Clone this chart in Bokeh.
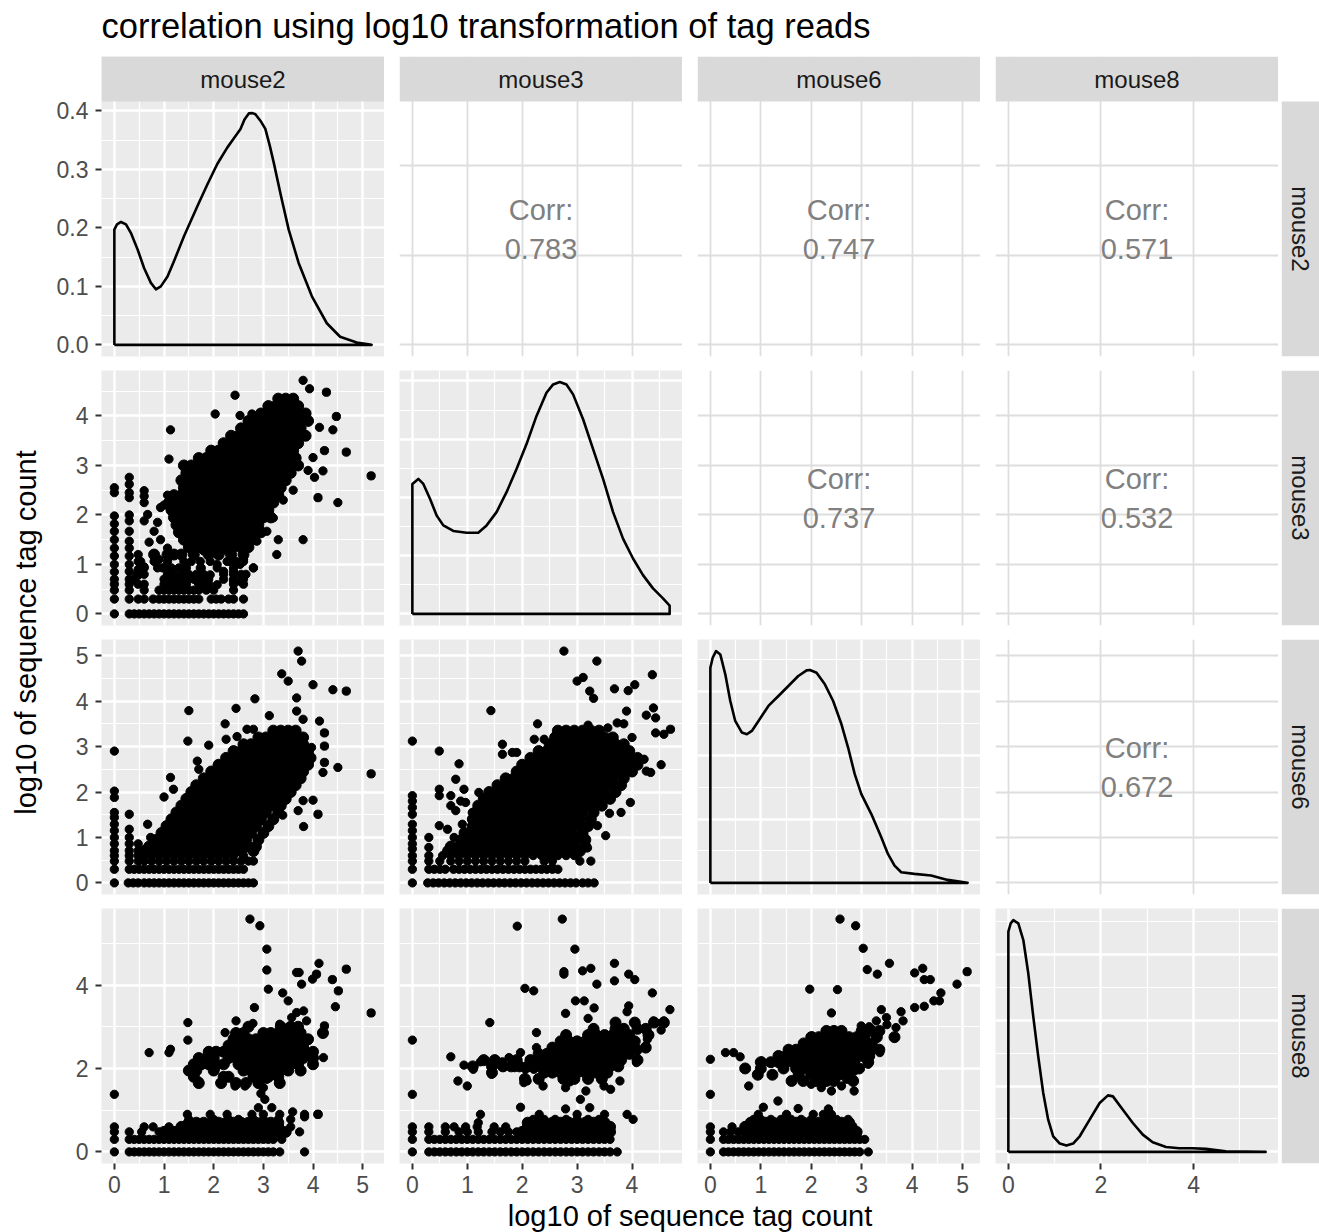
import math
from bokeh.plotting import figure
from bokeh.layouts import row, column
from bokeh.models import Range1d, Label, FixedTicker, LinearAxis, Grid, PrintfTickFormatter
from bokeh.embed import file_html
from bokeh.resources import INLINE

FONT = "Liberation Sans"

# ---------------- data ----------------
variables = ["mouse2", "mouse3", "mouse6", "mouse8"]
title_text = "correlation using log10 transformation of tag reads"
axis_title = "log10 of sequence tag count"

major_ticks = {"mouse2": [0, 1, 2, 3, 4, 5], "mouse3": [0, 1, 2, 3, 4],
               "mouse6": [0, 1, 2, 3, 4, 5], "mouse8": [0, 2, 4]}
minor_ticks = {"mouse2": [0.5, 1.5, 2.5, 3.5, 4.5], "mouse3": [0.5, 1.5, 2.5, 3.5, 4.5],
               "mouse6": [0.5, 1.5, 2.5, 3.5, 4.5], "mouse8": [1, 3, 5]}
upper_y_ticks = {"mouse2": [0, 2, 4], "mouse3": [0, 1, 2, 3, 4], "mouse6": [0, 1, 2, 3, 4, 5]}
density_major = {"mouse2": [0, 0.1, 0.2, 0.3, 0.4], "mouse3": [0, 0.1, 0.2, 0.3, 0.4],
                 "mouse6": [0, 0.1, 0.2, 0.3], "mouse8": [0, 0.25, 0.5, 0.75]}
density_minor = {"mouse2": [0.05, 0.15, 0.25, 0.35], "mouse3": [0.05, 0.15, 0.25, 0.35],
                 "mouse6": [0.05, 0.15, 0.25, 0.35], "mouse8": [0.125, 0.375, 0.625, 0.875]}

corr_pairs = [("mouse2", "mouse3"), ("mouse2", "mouse6"), ("mouse2", "mouse8"),
              ("mouse3", "mouse6"), ("mouse3", "mouse8"), ("mouse6", "mouse8")]
corr_values = ["0.783", "0.747", "0.571", "0.737", "0.532", "0.672"]

# density curves (x, density)
dens_m2_x = [0, 0.053, 0.134, 0.234, 0.334, 0.468, 0.6, 0.735, 0.836, 0.936, 1.07, 1.2, 1.404, 1.671,
             1.872, 2.072, 2.273, 2.4, 2.54, 2.62, 2.707, 2.78, 2.84, 2.94, 3.04, 3.13, 3.21, 3.356,
             3.51, 3.71, 3.977, 4.278, 4.545, 4.88, 5.18]
dens_m2_y = [0.197, 0.206, 0.21, 0.206, 0.191, 0.163, 0.131, 0.106, 0.095, 0.1, 0.117, 0.143, 0.186,
             0.237, 0.274, 0.309, 0.337, 0.352, 0.369, 0.385, 0.3955, 0.396, 0.394, 0.383, 0.369,
             0.34, 0.311, 0.254, 0.197, 0.14, 0.083, 0.037, 0.014, 0.004, 0.0]
dens_m3_x = [0, 0.109, 0.2, 0.321, 0.442, 0.564, 0.745, 0.988, 1.2, 1.352, 1.533, 1.715, 1.897, 2.079,
             2.261, 2.442, 2.564, 2.685, 2.806, 2.927, 3.109, 3.291, 3.473, 3.655, 3.836, 4.018, 4.2,
             4.382, 4.564, 4.685]
dens_m3_y = [0.2232, 0.2318, 0.2232, 0.1976, 0.1691, 0.152, 0.1424, 0.1395, 0.1395, 0.152, 0.1748,
             0.209, 0.2489, 0.2916, 0.34, 0.3798, 0.3941, 0.3981, 0.3941, 0.377, 0.3343, 0.283, 0.2318,
             0.1748, 0.1293, 0.0951, 0.0666, 0.0439, 0.0267, 0.0142]
dens_m6_x = [0, 0.046, 0.112, 0.197, 0.296, 0.395, 0.493, 0.625, 0.724, 0.822, 0.954, 1.151, 1.349,
             1.546, 1.743, 1.908, 1.974, 2.105, 2.27, 2.434, 2.599, 2.73, 2.862, 2.993, 3.191, 3.388,
             3.52, 3.651, 3.783, 4.046, 4.375, 4.704, 5.1]
dens_m6_y = [0.337, 0.3526, 0.363, 0.3578, 0.3266, 0.2849, 0.2536, 0.2354, 0.2328, 0.238, 0.2536,
             0.2771, 0.2927, 0.3083, 0.324, 0.3328, 0.3333, 0.3292, 0.3109, 0.2849, 0.2484, 0.212,
             0.1703, 0.1391, 0.1078, 0.0714, 0.0453, 0.0271, 0.0167, 0.0141, 0.0115, 0.0047, 0.0]
dens_m8_x = [0, 0.05, 0.108, 0.215, 0.323, 0.43, 0.538, 0.645, 0.753, 0.86, 0.968, 1.111, 1.254,
             1.398, 1.541, 1.756, 1.971, 2.151, 2.258, 2.473, 2.688, 2.903, 3.118, 3.405, 3.692,
             3.978, 4.265, 4.695, 5.556]
dens_m8_y = [0.8359, 0.8674, 0.88, 0.8674, 0.8043, 0.678, 0.5139, 0.3624, 0.2235, 0.1225, 0.0593,
             0.0316, 0.024, 0.0316, 0.0593, 0.1225, 0.1856, 0.2146, 0.2109, 0.1604, 0.1098, 0.0657,
             0.0366, 0.0189, 0.0139, 0.0139, 0.0114, 0.0025, 0.0]
densities = {"mouse2": (dens_m2_x, dens_m2_y), "mouse3": (dens_m3_x, dens_m3_y),
             "mouse6": (dens_m6_x, dens_m6_y), "mouse8": (dens_m8_x, dens_m8_y)}

# ---- scatter: mouse3 (y) vs mouse2 (x) ----
m3_m2_levels = [
    (0.0, [0, 0.3, 0.4, 0.5, 0.6, 0.7, 0.8, 0.9, 1.0, 1.1, 1.2, 1.3, 1.4, 1.5, 1.6, 1.7, 1.8, 1.9, 2.0, 2.1, 2.2, 2.3, 2.4, 2.5, 2.6]),
    (0.3, [0, 0.3, 0.48, 0.6, 0.78, 0.9, 1.0, 1.1, 1.2, 1.3, 1.4, 1.5, 1.6, 1.7, 1.95, 2.05, 2.15, 2.3, 2.4, 2.6]),
    (0.48, [0, 0.3, 0.6, 0.9, 1.0, 1.1, 1.2, 1.3, 1.4, 1.5, 1.6, 1.7, 1.85, 2.0, 2.4]),
    (0.6, [0, 0.3, 0.48, 0.6, 1.0, 1.1, 1.2, 1.3, 1.45, 1.7, 1.8, 1.9, 2.4, 2.6]),
    (0.7, [0.4, 1.0, 1.15, 1.3, 1.45, 1.6, 1.75, 1.9, 2.2, 2.4, 2.6]),
    (0.8, [0.45, 1.07, 1.2, 1.35, 1.5, 1.65, 1.8, 2.2, 2.4, 2.55, 2.65]),
    (0.93, [0.6, 0.87, 1.0, 1.15, 1.3, 1.45, 1.75, 2.07, 2.4, 2.8]),
    (1.06, [0.53, 0.8, 1.07, 1.4, 1.55, 1.73, 1.93, 2.27, 2.45, 2.6]),
]
m3_m2_core = [
    (4.35, [3.3, 3.45, 3.6]),
    (4.2, [3.1, 3.25, 3.4, 3.55, 3.7]),
    (4.05, [2.95, 3.1, 3.25, 3.4, 3.55, 3.7, 3.85]),
    (3.9, [2.7, 2.85, 3.0, 3.15, 3.3, 3.45, 3.6, 3.75, 3.9]),
    (3.75, [2.55, 2.7, 2.85, 3.0, 3.15, 3.3, 3.45, 3.6, 3.75]),
    (3.6, [2.35, 2.5, 2.65, 2.8, 2.95, 3.1, 3.25, 3.4, 3.55, 3.7, 3.85]),
    (3.45, [2.2, 2.35, 2.5, 2.65, 2.8, 2.95, 3.1, 3.25, 3.4, 3.55, 3.7]),
    (3.3, [1.95, 2.1, 2.25, 2.4, 2.55, 2.7, 2.85, 3.0, 3.15, 3.3, 3.45, 3.6]),
    (3.15, [1.7, 1.85, 2.0, 2.15, 2.3, 2.45, 2.6, 2.75, 2.9, 3.05, 3.2, 3.35, 3.5, 3.65]),
    (3.0, [1.4, 1.55, 1.7, 1.85, 2.0, 2.15, 2.3, 2.45, 2.6, 2.75, 2.9, 3.05, 3.2, 3.35, 3.5, 3.7]),
    (2.85, [1.45, 1.6, 1.75, 1.9, 2.05, 2.2, 2.35, 2.5, 2.65, 2.8, 2.95, 3.1, 3.25, 3.4, 3.55]),
    (2.7, [1.35, 1.5, 1.65, 1.8, 1.95, 2.1, 2.25, 2.4, 2.55, 2.7, 2.85, 3.0, 3.15, 3.3, 3.45]),
    (2.55, [1.4, 1.55, 1.7, 1.85, 2.0, 2.15, 2.3, 2.45, 2.6, 2.75, 2.9, 3.05, 3.2, 3.35]),
    (2.4, [1.2, 1.35, 1.5, 1.65, 1.8, 1.95, 2.1, 2.25, 2.4, 2.55, 2.7, 2.85, 3.0, 3.15, 3.3]),
    (2.25, [1.1, 1.25, 1.4, 1.55, 1.7, 1.85, 2.0, 2.15, 2.3, 2.45, 2.6, 2.75, 2.9, 3.05, 3.2]),
    (2.1, [1.15, 1.3, 1.45, 1.6, 1.75, 1.9, 2.05, 2.2, 2.35, 2.5, 2.65, 2.8, 2.95, 3.1]),
    (1.95, [1.2, 1.35, 1.5, 1.65, 1.8, 1.95, 2.1, 2.25, 2.4, 2.55, 2.7, 2.85, 3.0, 3.15]),
    (1.8, [1.25, 1.4, 1.55, 1.7, 1.85, 2.0, 2.15, 2.3, 2.45, 2.6, 2.75, 2.9]),
    (1.65, [1.3, 1.45, 1.6, 1.75, 1.9, 2.05, 2.2, 2.35, 2.5, 2.65, 2.8, 2.95]),
    (1.5, [1.4, 1.55, 1.7, 1.85, 2.0, 2.15, 2.3, 2.45, 2.6, 2.75]),
    (1.35, [1.5, 1.7, 1.85, 2.0, 2.2, 2.4, 2.55, 2.7]),
    (1.2, [0.8, 1.07, 1.2, 1.35, 1.6, 1.9, 2.1, 2.35, 2.6]),
]
m3_m2_cols = [
    (0, [0.7, 0.85, 1.0, 1.17, 1.33, 1.5, 1.67, 1.82, 1.98, 2.45, 2.55]),
    (0.3, [0.7, 0.86, 1.0, 1.17, 1.33, 1.47, 1.67, 1.88, 2.0, 2.35, 2.45, 2.62, 2.76]),
    (0.48, [0.78, 0.9, 1.06, 1.2]),
    (0.6, [0.8, 0.95, 2.25, 2.38, 2.49]),
]
m3_m2_extra = [
    (0.67, 2.01), (0.6, 1.88), (0.8, 1.67), (0.93, 2.15), (0.9, 1.1), (0.97, 0.93), (0.93, 1.5),
    (1.07, 1.33), (1.13, 0.86), (1.33, 1.2), (1.4, 0.93), (1.27, 0.59), (1.53, 0.72), (1.67, 0.66), (1.73, 0.93),
    (1.8, 1.27), (1.93, 0.79), (2.07, 1.0), (2.2, 0.86), (2.33, 1.06), (2.4, 0.86), (2.53, 1.0), (2.6, 1.1),
    (2.8, 0.93), (2.53, 0.66), (2.4, 0.66), (2.07, 0.59), (2.27, 1.27), (2.87, 1.47), (3.07, 1.67), (3.2, 1.94),
    (3.27, 1.2), (3.8, 1.5), (4.1, 2.35), (4.5, 2.25), (2.43, 4.42), (2.03, 4.04), (1.13, 3.72), (1.1, 3.13),
    (3.8, 4.72), (3.93, 4.55), (4.27, 4.48), (4.47, 3.99), (4.4, 3.72), (4.13, 3.77), (4.67, 3.27), (4.23, 3.3),
    (4.0, 3.16), (5.17, 2.79), (4.2, 2.89), (4.03, 2.76), (2.53, 4.01), (2.77, 4.04), (2.93, 4.01), (2.77, 3.72),
    (2.1, 3.25), (1.87, 3.16), (1.0, 2.2), (1.07, 2.4), (0.87, 1.85), (3.4, 2.3), (3.6, 2.5), (3.9, 2.9),
    (3.3, 1.5), (0.7, 1.45),
]

# ---- scatter: mouse6 (y) vs mouse2 (x) ----
m6_m2_levels = [
    (0.0, [0, 0.28, 0.38, 0.48, 0.6, 0.7, 0.8, 0.9, 1.0, 1.1, 1.2, 1.3, 1.4, 1.5, 1.6, 1.7, 1.8, 1.9, 2.0, 2.1, 2.2, 2.3, 2.4, 2.5, 2.6, 2.7, 2.8]),
    (0.3, [0, 0.3, 0.4, 0.5, 0.6, 0.7, 0.8, 0.9, 1.0, 1.1, 1.2, 1.3, 1.4, 1.5, 1.6, 1.7, 1.8, 1.9, 2.0, 2.1, 2.2, 2.3, 2.4, 2.5, 2.6]),
    (0.48, [0, 0.3, 0.48, 0.6, 0.75, 0.9, 1.05, 1.2, 1.35, 1.5, 1.65, 1.8, 1.95, 2.1, 2.25, 2.4, 2.55, 2.7, 2.8]),
    (0.6, [0, 0.3, 0.48, 0.6, 0.75, 0.9, 1.05, 1.2, 1.35, 1.5, 1.65, 1.8, 1.95, 2.1, 2.25, 2.4, 2.6]),
]
m6_m2_core = [
    (0.7, [0.6, 0.75, 0.9, 1.05, 1.2, 1.35, 1.5, 1.65, 1.8, 1.95, 2.1, 2.25, 2.4, 2.55, 2.8]),
    (0.8, [0.7, 0.85, 1.0, 1.15, 1.3, 1.45, 1.6, 1.75, 1.9, 2.05, 2.2, 2.35, 2.5, 2.7, 2.85]),
    (0.95, [0.85, 1.0, 1.15, 1.3, 1.45, 1.6, 1.75, 1.9, 2.05, 2.2, 2.35, 2.5, 2.65, 2.9]),
    (1.1, [0.95, 1.1, 1.25, 1.4, 1.55, 1.7, 1.85, 2.0, 2.15, 2.3, 2.45, 2.6, 2.75, 3.0]),
    (1.25, [1.05, 1.2, 1.35, 1.5, 1.65, 1.8, 1.95, 2.1, 2.25, 2.4, 2.55, 2.7, 2.85, 3.1]),
    (1.4, [1.15, 1.3, 1.45, 1.6, 1.75, 1.9, 2.05, 2.2, 2.35, 2.5, 2.65, 2.8, 2.95, 3.2]),
    (1.55, [1.25, 1.4, 1.55, 1.7, 1.85, 2.0, 2.15, 2.3, 2.45, 2.6, 2.75, 2.9, 3.05, 3.3]),
    (1.7, [1.35, 1.5, 1.65, 1.8, 1.95, 2.1, 2.25, 2.4, 2.55, 2.7, 2.85, 3.0, 3.15, 3.35]),
    (1.85, [1.45, 1.6, 1.75, 1.9, 2.05, 2.2, 2.35, 2.5, 2.65, 2.8, 2.95, 3.1, 3.25, 3.45]),
    (2.0, [1.55, 1.7, 1.85, 2.0, 2.15, 2.3, 2.45, 2.6, 2.75, 2.9, 3.05, 3.2, 3.35, 3.55]),
    (2.15, [1.65, 1.8, 1.95, 2.1, 2.25, 2.4, 2.55, 2.7, 2.85, 3.0, 3.15, 3.3, 3.45, 3.65]),
    (2.3, [1.8, 1.95, 2.1, 2.25, 2.4, 2.55, 2.7, 2.85, 3.0, 3.15, 3.3, 3.45, 3.6, 3.75]),
    (2.45, [1.95, 2.1, 2.25, 2.4, 2.55, 2.7, 2.85, 3.0, 3.15, 3.3, 3.45, 3.6, 3.8]),
    (2.6, [2.1, 2.25, 2.4, 2.55, 2.7, 2.85, 3.0, 3.15, 3.3, 3.45, 3.6, 3.75, 3.9]),
    (2.75, [2.25, 2.4, 2.55, 2.7, 2.85, 3.0, 3.15, 3.3, 3.45, 3.6, 3.75, 3.95]),
    (2.9, [2.4, 2.55, 2.7, 2.85, 3.0, 3.15, 3.3, 3.45, 3.6, 3.75, 3.9]),
    (3.05, [2.6, 2.75, 2.9, 3.05, 3.2, 3.35, 3.5, 3.65, 3.8]),
    (3.2, [2.9, 3.05, 3.2, 3.35, 3.5, 3.65, 3.8]),
    (3.35, [3.2, 3.35, 3.5, 3.65]),
]
m6_m2_cols = [
    (0, [0.71, 0.86, 1.0, 1.15, 1.29, 1.44, 1.55, 1.88, 2.02, 2.9]),
    (0.3, [0.71, 0.86, 1.0, 1.18, 1.51]),
    (0.48, [0.71, 0.86]),
]
m6_m2_extra = [
    (3.7, 5.1), (3.77, 4.88), (3.37, 4.6), (3.5, 4.44), (4.0, 4.36), (4.4, 4.25), (4.67, 4.22), (3.67, 4.07),
    (2.83, 4.05), (1.5, 3.79), (2.45, 3.84), (3.12, 3.68), (2.23, 3.5), (3.67, 3.78), (3.8, 3.6), (4.13, 3.56),
    (1.48, 3.12), (1.9, 3.03), (2.25, 3.16), (2.47, 3.22), (2.67, 3.38), (2.8, 3.38), (4.23, 3.3), (3.97, 2.98),
    (4.23, 3.01), (4.23, 2.65), (4.2, 2.43), (4.5, 2.54), (5.17, 2.4), (1.67, 2.68), (1.7, 2.5), (2.07, 2.57),
    (1.13, 2.32), (1.19, 2.06), (1.0, 1.89), (4.0, 1.82), (3.8, 1.81), (3.43, 1.81), (3.7, 1.59), (4.1, 1.51),
    (3.39, 1.49), (3.81, 1.24), (0.67, 1.29), (0.73, 1.0),
]

# ---- scatter: mouse6 (y) vs mouse3 (x) ----
m6_m3_levels = [
    (0.0, [0, 0.28, 0.38, 0.48, 0.58, 0.68, 0.78, 0.88, 0.98, 1.08, 1.18, 1.28, 1.38, 1.48, 1.58, 1.68, 1.78, 1.88, 1.98, 2.08, 2.18, 2.28, 2.38, 2.48, 2.58, 2.68, 2.78, 2.88, 2.98, 3.1, 3.2, 3.31]),
    (0.3, [0, 0.3, 0.4, 0.5, 0.6, 0.75, 0.85, 0.95, 1.05, 1.15, 1.25, 1.35, 1.45, 1.55, 1.65, 1.75, 1.85, 1.95, 2.05, 2.15, 2.25, 2.35, 2.45, 2.55, 2.65]),
    (0.48, [0, 0.3, 0.5, 0.7, 0.85, 1.0, 1.15, 1.3, 1.45, 1.6, 1.75, 1.9, 2.05, 2.4, 2.55, 3.05, 3.25]),
    (0.6, [0, 0.3, 0.55, 0.7, 0.85, 1.0, 1.15, 1.3, 1.45, 1.6, 1.75, 1.9, 2.05, 2.2, 2.35, 2.5, 2.65, 2.8, 2.95]),
]
m6_m3_core = [
    (0.7, [0.65, 0.8, 0.95, 1.1, 1.25, 1.4, 1.55, 1.7, 1.85, 2.0, 2.15, 2.3, 2.45, 2.6, 2.75, 2.9, 3.05]),
    (0.8, [0.7, 0.85, 1.0, 1.15, 1.3, 1.45, 1.6, 1.75, 1.9, 2.05, 2.2, 2.35, 2.5, 2.65, 2.8, 2.95, 3.15]),
    (0.95, [0.9, 1.05, 1.2, 1.35, 1.5, 1.65, 1.8, 1.95, 2.1, 2.25, 2.4, 2.55, 2.7, 2.85, 3.0, 3.15]),
    (1.1, [0.95, 1.1, 1.25, 1.4, 1.55, 1.7, 1.85, 2.0, 2.15, 2.3, 2.45, 2.6, 2.75, 2.9, 3.1]),
    (1.25, [1.1, 1.25, 1.4, 1.55, 1.7, 1.85, 2.0, 2.15, 2.3, 2.45, 2.6, 2.75, 2.9, 3.05, 3.2]),
    (1.4, [1.1, 1.25, 1.4, 1.55, 1.7, 1.85, 2.0, 2.15, 2.3, 2.45, 2.6, 2.75, 2.9, 3.05, 3.25]),
    (1.55, [1.15, 1.3, 1.45, 1.6, 1.75, 1.9, 2.05, 2.2, 2.35, 2.5, 2.65, 2.8, 2.95, 3.1, 3.3]),
    (1.7, [1.2, 1.35, 1.5, 1.65, 1.8, 1.95, 2.1, 2.25, 2.4, 2.55, 2.7, 2.85, 3.0, 3.15, 3.3, 3.45]),
    (1.85, [1.3, 1.45, 1.6, 1.75, 1.9, 2.05, 2.2, 2.35, 2.5, 2.65, 2.8, 2.95, 3.1, 3.25, 3.4, 3.6]),
    (2.0, [1.4, 1.55, 1.7, 1.85, 2.0, 2.15, 2.3, 2.45, 2.6, 2.75, 2.9, 3.05, 3.2, 3.35, 3.5, 3.7]),
    (2.15, [1.55, 1.7, 1.85, 2.0, 2.15, 2.3, 2.45, 2.6, 2.75, 2.9, 3.05, 3.2, 3.35, 3.5, 3.65, 3.8]),
    (2.3, [1.7, 1.85, 2.0, 2.15, 2.3, 2.45, 2.6, 2.75, 2.9, 3.05, 3.2, 3.35, 3.5, 3.65, 3.85]),
    (2.45, [1.9, 2.05, 2.2, 2.35, 2.5, 2.65, 2.8, 2.95, 3.1, 3.25, 3.4, 3.55, 3.7, 3.85, 4.0]),
    (2.6, [2.0, 2.15, 2.3, 2.45, 2.6, 2.75, 2.9, 3.05, 3.2, 3.35, 3.5, 3.65, 3.8, 3.95, 4.1]),
    (2.75, [2.15, 2.3, 2.45, 2.6, 2.75, 2.9, 3.05, 3.2, 3.35, 3.5, 3.65, 3.8, 3.95, 4.1]),
    (2.9, [2.3, 2.45, 2.6, 2.75, 2.9, 3.05, 3.2, 3.35, 3.5, 3.65, 3.8, 3.95]),
    (3.05, [2.5, 2.65, 2.8, 2.95, 3.1, 3.25, 3.4, 3.55, 3.7, 3.85]),
    (3.2, [2.6, 2.75, 2.9, 3.05, 3.2, 3.35, 3.5, 3.65]),
    (3.35, [2.65, 2.8, 2.95, 3.1, 3.25, 3.4]),
]
m6_m3_cols = [
    (0, [0.75, 0.86, 1.0, 1.15, 1.29, 1.51, 1.66, 1.8, 1.92, 3.12]),
    (0.3, [0.78, 1.0]),
]
m6_m3_extra = [
    (0.49, 2.9), (0.49, 2.06), (0.49, 1.92), (0.85, 2.62), (0.79, 2.28), (0.94, 2.06), (0.7, 1.92), (0.7, 1.7),
    (0.88, 1.8), (0.79, 1.59), (1.09, 1.55), (0.97, 1.77), (1.21, 1.99), (0.49, 1.26), (0.64, 1.18), (0.76, 1.0),
    (0.91, 1.29), (1.43, 3.79), (1.64, 3.05), (1.64, 2.83), (1.82, 2.87), (1.9, 2.87), (2.28, 3.5), (2.22, 3.16),
    (2.55, 2.98), (2.4, 3.16), (2.76, 5.1), (3.36, 4.88), (3.0, 4.44), (3.11, 4.52), (3.23, 4.22), (3.3, 4.06),
    (3.68, 4.27), (3.93, 4.23), (4.05, 4.36), (4.37, 4.58), (3.9, 3.78), (4.26, 3.69), (4.39, 3.85), (4.43, 3.63),
    (4.7, 3.38), (4.58, 3.27), (4.43, 3.3), (3.73, 3.52), (3.56, 3.41), (3.2, 3.47), (4.53, 2.6), (4.22, 2.72),
    (4.34, 2.43), (4.26, 2.46), (3.97, 1.77), (3.8, 1.55), (3.59, 1.53), (3.52, 1.04), (3.37, 1.26), (3.19, 0.77),
    (2.55, 0.34), (3.85, 3.5), (4.0, 3.2),
]

# ---- scatter: mouse8 (y) vs mouse2 (x) ----
m8_m2_levels = [
    (0.0, [0, 0.3, 0.4, 0.5, 0.6, 0.7, 0.8, 0.9, 1.0, 1.1, 1.2, 1.3, 1.4, 1.5, 1.6, 1.7, 1.8, 1.9, 2.0, 2.1, 2.2, 2.3, 2.4, 2.5, 2.6, 2.7, 2.8, 2.9, 3.0, 3.1, 3.2, 3.33, 3.83]),
    (0.3, [0, 0.3, 0.4, 0.5, 0.6, 0.7, 0.8, 0.9, 1.0, 1.1, 1.2, 1.3, 1.4, 1.5, 1.6, 1.7, 1.8, 1.9, 2.0, 2.1, 2.2, 2.3, 2.4, 2.5, 2.6, 2.7, 2.8, 2.9, 3.0, 3.1, 3.2, 3.37]),
    (0.48, [0, 0.3, 0.55, 0.9, 3.73]),
    (0.6, [0, 0.6, 0.78, 1.1, 3.55]),
    (0.78, [1.5, 2.0, 2.3, 2.5, 2.8, 3.0, 3.3, 3.55]),
    (0.9, [1.47, 1.93, 2.27, 2.77, 3.0, 3.33, 3.83, 4.1]),
]
m8_m2_core = [
    (0.48, [1.0, 1.1, 1.2, 1.3, 1.4, 1.5, 1.6, 1.7, 1.8, 1.9, 2.0, 2.1, 2.2, 2.3, 2.4, 2.5, 2.6, 2.7, 2.8, 2.9, 3.0, 3.1, 3.2, 3.3, 3.45]),
    (0.6, [1.35, 1.45, 1.55, 1.65, 1.75, 1.85, 1.95, 2.05, 2.15, 2.25, 2.35, 2.45, 2.55, 2.65, 2.75, 2.85, 2.95, 3.05, 3.15, 3.3]),
    (0.7, [1.5, 1.65, 1.8, 1.95, 2.1, 2.25, 2.4, 2.55, 2.7, 2.85, 3.0, 3.15, 3.3]),
    (3.0, [2.7, 3.35, 3.55, 3.7]),
    (2.85, [2.45, 2.6, 3.0, 3.15, 3.3, 3.45, 3.6, 3.75, 4.2]),
    (2.7, [2.4, 2.55, 2.7, 2.85, 3.0, 3.15, 3.3, 3.45, 3.6, 3.75, 3.9]),
    (2.55, [2.3, 2.45, 2.6, 2.75, 2.9, 3.05, 3.2, 3.35, 3.5, 3.65, 3.8]),
    (2.4, [1.9, 2.05, 2.2, 2.35, 2.5, 2.65, 2.8, 2.95, 3.1, 3.25, 3.4, 3.55, 3.7, 3.85, 4.0]),
    (2.25, [1.7, 1.85, 2.0, 2.3, 2.45, 2.6, 2.75, 2.9, 3.05, 3.2, 3.35, 3.5, 3.65, 3.8, 4.0]),
    (2.1, [1.6, 1.75, 1.9, 2.05, 2.2, 2.5, 2.65, 2.8, 2.95, 3.1, 3.25, 3.4, 3.55, 3.7, 4.0]),
    (1.95, [1.5, 1.65, 2.0, 2.6, 2.75, 2.9, 3.05, 3.2, 3.35, 3.5, 3.75]),
    (1.8, [1.6, 2.2, 2.3, 2.8, 2.95, 3.1, 3.3]),
    (1.65, [1.7, 2.15, 2.45, 2.65, 2.9, 3.33]),
]
m8_m2_cols = [(0, [1.38])]
m8_m2_extra = [
    (0.7, 2.38), (1.1, 2.38), (1.13, 2.46), (1.48, 3.1), (1.48, 2.68), (1.6, 1.86), (1.7, 2.18), (1.7, 1.7),
    (1.87, 2.14), (1.9, 2.42), (2.03, 2.42), (2.03, 1.98), (2.23, 2.86), (2.23, 2.1), (2.13, 1.66), (2.3, 1.78),
    (2.43, 1.58), (2.63, 1.58), (2.45, 3.14), (2.45, 2.82), (2.79, 3.08), (2.82, 3.46), (2.73, 5.58), (2.93, 5.42),
    (3.07, 4.86), (3.07, 4.36), (3.1, 3.9), (3.39, 3.81), (3.5, 3.62), (3.67, 4.3), (3.72, 4.3), (3.77, 4.02),
    (3.99, 4.14), (4.07, 4.26), (4.12, 4.52), (4.39, 4.13), (4.51, 3.86), (4.67, 4.38), (4.45, 3.48), (5.17, 3.33),
    (4.23, 3.02), (4.21, 2.86), (4.21, 2.26), (4.0, 2.34), (4.0, 2.14), (3.77, 1.94), (3.33, 1.7), (3.87, 3.14),
    (3.81, 3.38), (3.67, 3.34), (3.57, 3.22), (3.33, 3.06), (2.8, 2.14), (2.87, 1.94), (2.92, 1.66), (2.9, 1.06),
    (3.17, 1.06), (3.03, 1.26), (3.0, 1.54), (3.07, 1.74), (3.59, 0.96), (4.1, 0.9), (3.83, 0.84), (2.95, 1.4),
]

# ---- scatter: mouse8 (y) vs mouse3 (x) ----
m8_m3_levels = [
    (0.0, [0, 0.3, 0.4, 0.5, 0.6, 0.7, 0.8, 0.9, 1.0, 1.1, 1.2, 1.3, 1.4, 1.5, 1.6, 1.7, 1.8, 1.9, 2.0, 2.1, 2.2, 2.3, 2.4, 2.5, 2.6, 2.7, 2.8, 2.9, 3.0, 3.1, 3.2, 3.3, 3.4, 3.5, 3.6, 3.73]),
    (0.3, [0, 0.3, 0.4, 0.5, 0.6, 0.7, 0.8, 0.9, 1.0, 1.1, 1.2, 1.3, 1.4, 1.5, 1.6, 1.7, 1.8, 1.9, 2.0, 2.1, 2.2, 2.3, 2.4, 2.5, 2.6, 2.7, 2.8, 2.9, 3.0, 3.1, 3.2, 3.3, 3.4, 3.5, 3.6]),
    (0.48, [0, 0.3, 0.6, 0.85, 1.0, 1.2, 1.45, 1.6, 1.75, 1.9]),
    (0.6, [0, 0.3, 0.6, 0.76, 0.97, 1.18, 1.49, 1.7]),
    (0.7, [1.2]),
    (0.78, [2.2, 2.4, 2.6, 2.8, 3.0, 3.2, 3.4, 4.02]),
    (0.9, [1.24, 2.31, 3.0, 3.5, 3.91]),
]
m8_m3_core = [
    (0.48, [2.0, 2.1, 2.2, 2.3, 2.4, 2.5, 2.6, 2.7, 2.8, 2.9, 3.0, 3.1, 3.2, 3.3, 3.4, 3.5, 3.6]),
    (0.6, [2.1, 2.2, 2.3, 2.4, 2.5, 2.6, 2.7, 2.8, 2.9, 3.0, 3.1, 3.2, 3.3, 3.4, 3.5, 3.6]),
    (0.7, [2.1, 2.25, 2.4, 2.55, 2.7, 2.85, 3.0, 3.15, 3.3, 3.5]),
    (3.1, [3.7, 4.05, 4.4, 4.58]),
    (2.95, [3.3, 3.7, 3.85, 4.1, 4.25]),
    (2.8, [2.8, 3.2, 3.35, 3.5, 3.65, 3.8, 3.95, 4.3]),
    (2.65, [2.7, 2.85, 3.0, 3.15, 3.3, 3.45, 3.6, 3.75, 3.9, 4.05]),
    (2.5, [2.55, 2.7, 2.85, 3.0, 3.15, 3.3, 3.45, 3.6, 3.75, 3.9, 4.05, 4.25]),
    (2.35, [2.3, 2.45, 2.6, 2.75, 2.9, 3.05, 3.2, 3.35, 3.5, 3.65, 3.8, 3.95]),
    (2.2, [1.3, 1.5, 1.9, 2.15, 2.3, 2.45, 2.6, 2.75, 2.9, 3.05, 3.2, 3.35, 3.5, 3.65, 3.8, 4.1]),
    (2.05, [1.1, 1.45, 1.65, 1.8, 1.95, 2.1, 2.25, 2.4, 2.55, 2.7, 2.85, 3.0, 3.15, 3.3, 3.45, 3.6, 3.75]),
    (1.9, [1.45, 2.4, 2.55, 2.7, 2.85, 3.0, 3.15, 3.35, 3.55]),
    (1.75, [2.05, 2.3, 2.75, 2.95, 3.2, 3.45]),
]
m8_m3_cols = [(0, [1.38, 2.68])]
m8_m3_extra = [
    (1.97, 1.07), (2.79, 1.03), (3.06, 1.26), (3.23, 1.06), (3.16, 1.46), (0.7, 2.28), (0.83, 1.7), (0.94, 2.08),
    (1.0, 1.58), (1.11, 1.98), (1.24, 2.16), (1.44, 2.14), (1.44, 1.86), (1.41, 3.1), (1.64, 2.16), (1.76, 2.26),
    (1.86, 2.02), (1.97, 2.38), (1.91, 5.41), (2.05, 3.92), (2.21, 3.86), (2.26, 2.86), (2.26, 2.5), (2.03, 1.66),
    (2.09, 1.7), (2.38, 1.58), (2.06, 1.98), (2.21, 1.98), (2.4, 2.18), (2.55, 2.46), (2.73, 5.58), (2.76, 4.32),
    (2.76, 4.26), (2.96, 4.86), (2.97, 3.62), (3.13, 3.62), (3.1, 4.34), (3.25, 4.4), (3.36, 4.02), (3.31, 3.45),
    (3.2, 3.2), (2.79, 3.32), (2.79, 2.82), (2.87, 1.68), (2.79, 1.54), (3.68, 4.52), (3.68, 4.1), (3.94, 4.26),
    (4.05, 4.13), (4.37, 3.81), (3.94, 3.5), (3.91, 3.36), (3.7, 3.1), (4.05, 3.1), (4.1, 2.98), (4.25, 2.96),
    (4.39, 3.14), (4.58, 3.14), (4.69, 3.41), (4.53, 2.92), (4.28, 2.7), (4.25, 2.54), (4.1, 2.42), (4.08, 2.14),
    (3.78, 1.7), (3.61, 1.5), (3.49, 1.58),
]

# ---- scatter: mouse8 (y) vs mouse6 (x) ----
m8_m6_levels = [
    (0.0, [0, 0.26, 0.36, 0.46, 0.56, 0.66, 0.76, 0.86, 0.96, 1.06, 1.16, 1.26, 1.36, 1.46, 1.56, 1.66, 1.76, 1.86, 1.96, 2.06, 2.16, 2.26, 2.36, 2.46, 2.56, 2.66, 2.76, 2.86, 2.96, 3.13]),
    (0.3, [0, 0.26, 0.36, 0.46, 0.56, 0.66, 0.76, 0.86, 0.96, 1.06, 1.16, 1.26, 1.36, 1.46, 1.56, 1.66, 1.76, 1.86, 1.96, 2.06, 2.16, 2.26, 2.36, 2.46, 2.56, 2.66, 2.76, 2.86, 2.96, 3.06]),
    (0.48, [0, 0.26, 0.4, 0.55]),
    (0.6, [0, 0.43]),
    (0.78, [0.86, 1.0, 1.2, 1.4, 1.6, 1.8, 2.0, 2.3, 2.5, 2.73]),
    (0.9, [0.95, 1.51, 2.04, 2.24, 2.4]),
]
m8_m6_core = [
    (0.48, [0.7, 0.8, 0.9, 1.0, 1.1, 1.2, 1.3, 1.4, 1.5, 1.6, 1.7, 1.8, 1.9, 2.0, 2.1, 2.2, 2.3, 2.4, 2.5, 2.6, 2.7, 2.8, 2.9]),
    (0.6, [0.69, 0.8, 0.9, 1.0, 1.1, 1.2, 1.3, 1.4, 1.5, 1.6, 1.7, 1.8, 1.9, 2.0, 2.1, 2.2, 2.3, 2.4, 2.5, 2.6, 2.7, 2.8]),
    (0.7, [0.8, 0.95, 1.1, 1.25, 1.4, 1.55, 1.7, 1.85, 2.0, 2.15, 2.3, 2.45, 2.6, 2.75]),
    (2.9, [2.3, 2.45, 2.6, 3.0, 3.2, 3.35]),
    (2.75, [2.0, 2.15, 2.3, 2.45, 2.6, 2.75, 2.9, 3.05, 3.3, 3.65]),
    (2.6, [1.85, 2.0, 2.15, 2.3, 2.45, 2.6, 2.75, 2.9, 3.05, 3.2]),
    (2.45, [1.55, 1.7, 1.85, 2.0, 2.15, 2.3, 2.45, 2.6, 2.75, 2.9, 3.05, 3.2, 3.35]),
    (2.3, [1.35, 1.5, 1.65, 1.8, 1.95, 2.1, 2.25, 2.4, 2.55, 2.7, 2.85, 3.0, 3.15]),
    (2.15, [1.0, 1.2, 1.35, 1.5, 1.65, 1.8, 1.95, 2.1, 2.25, 2.4, 2.55, 2.7, 2.85, 3.13]),
    (2.0, [0.69, 1.0, 1.45, 1.7, 1.85, 2.0, 2.15, 2.3, 2.45, 2.6, 2.75, 2.95]),
    (1.85, [0.94, 1.23, 1.75, 2.0, 2.2, 2.4, 2.55, 2.7]),
    (1.7, [1.61, 1.84, 2.1, 2.3, 2.45, 2.83]),
]
m8_m6_cols = [(0, [1.38, 2.22])]
m8_m6_extra = [
    (1.05, 1.07), (1.34, 1.22), (1.74, 1.04), (2.34, 1.03), (0.3, 2.38), (0.46, 2.38), (0.59, 2.28), (0.76, 1.58),
    (0.94, 1.86), (1.02, 2.18), (1.22, 2.14), (1.38, 2.18), (1.45, 2.06), (1.55, 2.46), (1.61, 1.7), (1.74, 2.3),
    (1.84, 1.7), (1.88, 2.58), (1.97, 3.9), (2.02, 2.78), (2.0, 1.62), (2.2, 1.54), (2.4, 1.46), (2.4, 3.33),
    (2.52, 3.89), (2.57, 5.58), (2.88, 5.42), (3.03, 4.88), (3.11, 4.37), (3.31, 4.26), (3.55, 4.52), (4.05, 4.29),
    (4.21, 4.4), (4.24, 4.13), (4.36, 4.13), (4.57, 3.81), (4.89, 4.02), (5.09, 4.32), (4.43, 3.62), (4.54, 3.62),
    (4.24, 3.49), (4.05, 3.46), (3.78, 3.36), (3.82, 3.14), (3.68, 2.98), (3.66, 2.74), (3.49, 3.22), (3.39, 3.41),
    (3.29, 3.14), (3.36, 2.38), (3.13, 2.1), (2.86, 1.94), (2.83, 1.74), (2.85, 1.46), (2.7, 1.74), (2.6, 1.58),
    (2.99, 3.02), (3.15, 3.0), (3.5, 3.05),
]

scatter_sets = {
    ("mouse3", "mouse2"): (m3_m2_levels, m3_m2_core, m3_m2_cols, m3_m2_extra),
    ("mouse6", "mouse2"): (m6_m2_levels, m6_m2_core, m6_m2_cols, m6_m2_extra),
    ("mouse6", "mouse3"): (m6_m3_levels, m6_m3_core, m6_m3_cols, m6_m3_extra),
    ("mouse8", "mouse2"): (m8_m2_levels, m8_m2_core, m8_m2_cols, m8_m2_extra),
    ("mouse8", "mouse3"): (m8_m3_levels, m8_m3_core, m8_m3_cols, m8_m3_extra),
    ("mouse8", "mouse6"): (m8_m6_levels, m8_m6_core, m8_m6_cols, m8_m6_extra),
}

# ---------------- styling / layout constants ----------------
FW, FH = 283, 255
HGAP = 15
HALF_V = 7            # half of the 14px vertical gap between panel rows
LEFT = 56
YT_W = 45
STRIP_H = 45
RS_W, RS_GAP = 38, 3
BOTTOM = 34
TITLE_H = 56
TOTAL_W = YT_W + LEFT + 4 * FW + 3 * HGAP + RS_GAP + RS_W
ROW_H = [STRIP_H + FH + HALF_V, HALF_V + FH + HALF_V, HALF_V + FH + HALF_V, HALF_V + FH + BOTTOM]
COL_H = sum(ROW_H)
XT_H = 1232 - TITLE_H - COL_H

PANEL_BG = "#EBEBEB"
STRIP_BG = "#D9D9D9"
TICK_COLOR = "#4D4D4D"


def expand(rows, cols=(), extra=()):
    xs, ys = [], []
    for y, xl in rows:
        xs += list(xl)
        ys += [y] * len(xl)
    for x, yl in cols:
        xs += [x] * len(yl)
        ys += list(yl)
    for x, y in extra:
        xs.append(x)
        ys.append(y)
    return xs, ys


def var_range(v):
    mx = max(densities[v][0])
    return (-0.05 * mx, 1.05 * mx)


def dens_range(v):
    mx = max(densities[v][1])
    return (-0.05 * mx, 1.05 * mx)


def make_fig(xr, yr, left, top, bottom, right=0, bg=PANEL_BG, fw=FW, fh=FH):
    return figure(frame_width=fw, frame_height=fh, x_range=Range1d(*xr), y_range=Range1d(*yr),
                  x_axis_type=None, y_axis_type=None, toolbar_location=None, output_backend="svg",
                  min_border_left=left, min_border_right=right, min_border_top=top,
                  min_border_bottom=bottom, background_fill_color=bg, border_fill_color="white",
                  outline_line_color=None)


def add_grid(p, dim, majors, minors, color="white", width=2.4, minor_width=1.2):
    g = Grid(dimension=dim, ticker=FixedTicker(ticks=majors, minor_ticks=minors or []),
             grid_line_color=color, grid_line_width=width)
    if minors:
        g.minor_grid_line_color = color
        g.minor_grid_line_width = minor_width
    p.add_layout(g)


def add_axis(p, side, ticks, fmt=None):
    ax = LinearAxis(ticker=FixedTicker(ticks=ticks), axis_line_color=None,
                    major_tick_line_color="#333333", major_tick_line_width=2,
                    major_tick_out=6, major_tick_in=0, minor_tick_line_color=None,
                    major_label_text_font=FONT, major_label_text_font_size="23px",
                    major_label_text_color=TICK_COLOR,
                    major_label_standoff=7 if side == "left" else 6)
    if fmt:
        ax.formatter = PrintfTickFormatter(format=fmt)
    p.add_layout(ax, side)


def text_fig(w, h):
    return figure(width=w, height=h, x_range=Range1d(0, w), y_range=Range1d(0, h),
                  x_axis_type=None, y_axis_type=None, toolbar_location=None, output_backend="svg",
                  min_border=0, outline_line_color=None, background_fill_color="white",
                  border_fill_color="white")


# ---------------- build ----------------
title_fig = text_fig(TOTAL_W, TITLE_H)
title_fig.add_layout(Label(x=YT_W + LEFT, y=TITLE_H - 25, text=title_text, text_font=FONT,
                           text_font_size="34.5px", text_color="black", text_baseline="middle"))

panel_rows = []
for i, vy in enumerate(variables):
    top = 0 if i == 0 else HALF_V
    bottom = BOTTOM if i == 3 else HALF_V
    fh = FH + STRIP_H if i == 0 else FH
    figs = []
    for j, vx in enumerate(variables):
        left = LEFT if j == 0 else HGAP
        xr = var_range(vx)
        yr = dens_range(vy) if i == j else var_range(vy)
        yr_plot = yr
        if i == 0:
            # top row: the facet strip sits on top of the panel, inside the same canvas
            yr_plot = (yr[0], yr[1] + (yr[1] - yr[0]) * STRIP_H / FH)
        bg = "white" if i < j else PANEL_BG
        p = make_fig(xr, yr_plot, left, top, bottom, bg=bg, fh=fh)
        if i == j:
            add_grid(p, 0, major_ticks[vx], minor_ticks[vx])
            add_grid(p, 1, density_major[vy], density_minor[vy])
            dx, dy = densities[vy]
            px = [dx[0]] + dx + [dx[-1], dx[0]]
            py = [0.0] + dy + [0.0, 0.0]
            p.line(px, py, line_color="black", line_width=2.6, line_join="round")
            if j == 0:
                add_axis(p, "left", density_major[vy], "%.1f")
        elif i < j:
            add_grid(p, 0, major_ticks[vx], None, color="#DEDEDE", width=1.8)
            add_grid(p, 1, upper_y_ticks[vy], None, color="#DEDEDE", width=1.8)
            k = corr_pairs.index((vy, vx))
            xm = (xr[0] + xr[1]) / 2
            ym = (yr[0] + yr[1]) / 2
            for txt, off in (("Corr:", 19.5), (corr_values[k], -19.5)):
                p.add_layout(Label(x=xm, y=ym, y_offset=off, text=txt, text_align="center",
                                   text_baseline="middle", text_font=FONT,
                                   text_font_size="29px", text_color="#808080"))
        else:
            add_grid(p, 0, major_ticks[vx], minor_ticks[vx])
            add_grid(p, 1, major_ticks[vy], minor_ticks[vy])
            levels, core, cols, extra = scatter_sets[(vy, vx)]
            cx, cy = expand(core)
            p.scatter(cx, cy, size=11, color="black")
            xs, ys = expand(levels, cols, extra)
            p.scatter(xs, ys, size=8.3, color="black")
            if j == 0:
                add_axis(p, "left", major_ticks[vy])
        if i == 0:
            p.quad(left=[xr[0]], right=[xr[1]], bottom=[yr[1]], top=[yr_plot[1]],
                   fill_color=STRIP_BG, line_color=None)
            p.add_layout(Label(x=(xr[0] + xr[1]) / 2, y=(yr[1] + yr_plot[1]) / 2, text=vx,
                               text_align="center", text_baseline="middle", text_font=FONT,
                               text_font_size="24px", text_color="#1A1A1A"))
        if i == 3:
            add_axis(p, "below", major_ticks[vx])
        figs.append(p)
    # right-hand facet strip (same borders as the panels of its row)
    rs_top = (1 + STRIP_H / FH) if i == 0 else 1
    rs = make_fig((0, 1), (0, rs_top), RS_GAP, top, bottom, bg="white", fw=RS_W, fh=fh)
    rs.quad(left=[0], right=[1], bottom=[0], top=[1], fill_color=STRIP_BG, line_color=None)
    rs.add_layout(Label(x=0.5, y=0.5, text=vy, angle=-math.pi / 2, text_align="center",
                        text_baseline="middle", text_font=FONT, text_font_size="24px",
                        text_color="#1A1A1A"))
    figs.append(rs)
    panel_rows.append(row(*figs))

ytitle_fig = text_fig(YT_W, COL_H)
panel_mid_from_top = STRIP_H + (4 * FH + 3 * 2 * HALF_V) / 2
ytitle_fig.add_layout(Label(x=25, y=COL_H - panel_mid_from_top, text=axis_title, angle=math.pi / 2,
                            text_align="center", text_baseline="middle", text_font=FONT,
                            text_font_size="29px", text_color="black"))

xtitle_fig = text_fig(TOTAL_W, XT_H)
xtitle_fig.add_layout(Label(x=YT_W + LEFT + (4 * FW + 3 * HGAP) / 2, y=XT_H - 18, text=axis_title,
                            text_align="center", text_baseline="middle", text_font=FONT,
                            text_font_size="29px", text_color="black"))

grid_col = column(*panel_rows)
layout = column(title_fig, row(ytitle_fig, grid_col), xtitle_fig)

open("out.html", "w").write(file_html(layout, INLINE))
